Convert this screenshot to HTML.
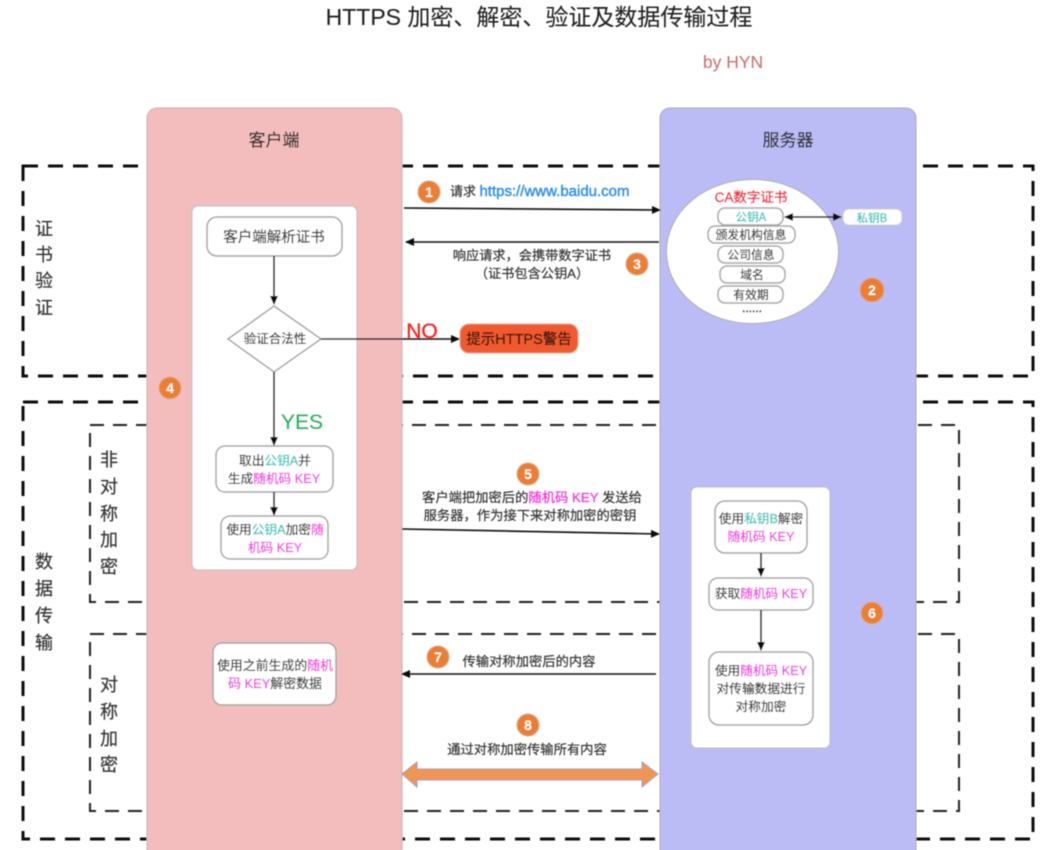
<!DOCTYPE html>
<html><head><meta charset="utf-8"><style>
html,body{margin:0;padding:0;background:#fff;width:1055px;height:850px;overflow:hidden}
svg{display:block}
text{font-family:"Liberation Sans","Noto Sans CJK SC",sans-serif;--c:#383838;fill:var(--c);stroke:var(--c);stroke-width:.22;text-anchor:middle}
tspan{fill:var(--c);stroke:var(--c)}
.b{fill:#fff;stroke:#a4a4a4;stroke-width:1.5}
.c{fill:#ec7e33;stroke:#d9a98a;stroke-width:1}
.n{--c:#fff;font-size:14px;font-weight:bold;stroke-width:0}
.t{--c:#1fc4b8}.m{--c:#f52ee0}
.l{stroke:#111;stroke-width:1.6;fill:none}
</style></head><body>
<svg width="1055" height="850" viewBox="0 0 1055 850" xmlns="http://www.w3.org/2000/svg">
<defs>
<marker id="a" markerWidth="9" markerHeight="8" refX="8" refY="4" orient="auto-start-reverse" markerUnits="userSpaceOnUse"><path d="M0 0L9 4L0 8Z" fill="#111"/></marker>
<filter id="s"><feGaussianBlur stdDeviation="0.45"/></filter>
</defs>
<g filter="url(#s)">
<text x="539" y="25" font-size="23" style="--c:#222;stroke-width:.1">HTTPS 加密、解密、验证及数据传输过程</text>
<text x="733" y="68" font-size="17.5" style="--c:#c9756d;stroke-width:.1">by HYN</text>

<rect x="23" y="166" width="1010" height="210" fill="none" stroke="#111" stroke-width="3" stroke-dasharray="15 10"/>
<rect x="23" y="402" width="1010" height="437" fill="none" stroke="#111" stroke-width="3" stroke-dasharray="15 10"/>
<rect x="90" y="425" width="869" height="177" fill="none" stroke="#222" stroke-width="2" stroke-dasharray="14 9"/>
<rect x="90" y="634" width="869" height="177" fill="none" stroke="#222" stroke-width="2" stroke-dasharray="14 9"/>

<rect x="147" y="108" width="255" height="780" rx="10" fill="#f4bdbd" stroke="#c9b0b0"/>
<rect x="660" y="108" width="256" height="780" rx="10" fill="#bbbcf6" stroke="#aaa"/>
<text x="274" y="146" font-size="17" style="--c:#2a2a2a">客户端</text>
<text x="788" y="146" font-size="17" style="--c:#2a2a2a">服务器</text>

<g font-size="18">
<text x="44" y="235">证</text><text x="44" y="261">书</text><text x="44" y="287">验</text><text x="44" y="314">证</text>
<text x="44" y="568">数</text><text x="44" y="595">据</text><text x="44" y="622">传</text><text x="44" y="649">输</text>
<text x="109" y="466">非</text><text x="109" y="493">对</text><text x="109" y="520">称</text><text x="109" y="546">加</text><text x="109" y="573">密</text>
<text x="109" y="691">对</text><text x="109" y="718">称</text><text x="109" y="745">加</text><text x="109" y="771">密</text>
</g>

<rect x="192" y="206" width="165" height="364" rx="6" fill="#fff" stroke="#bbb"/>
<rect x="207" y="217" width="135" height="39" rx="10" class="b"/>
<text x="274" y="242" font-size="14.5">客户端解析证书</text>
<path d="M274 256V304" class="l" marker-end="url(#a)"/>
<path d="M274 306L321 339L274 372L228 339Z" class="b"/>
<text x="275" y="343" font-size="12.5">验证合法性</text>
<path d="M321 339H459" class="l" marker-end="url(#a)"/>
<path d="M274 372V445" class="l" marker-end="url(#a)"/>
<text x="302" y="429" font-size="21" style="--c:#0fb45a;stroke-width:.35">YES</text>
<text x="422" y="338" font-size="21" style="--c:#f5261c;stroke-width:.35">NO</text>
<rect x="460" y="324" width="118" height="29" rx="9" fill="#f05a2e" stroke="#e8a48c"/>
<text x="519" y="344" font-size="14.5" style="--c:#2a1208">提示HTTPS警告</text>

<rect x="216" y="446" width="117" height="46" rx="9" class="b"/>
<text x="275" y="465" font-size="12.7">取出<tspan class="t">公钥A</tspan>并</text>
<text x="274" y="483" font-size="12.7">生成<tspan class="m">随机码 KEY</tspan></text>
<path d="M274 492V515" class="l" marker-end="url(#a)"/>
<rect x="221" y="516" width="107" height="43" rx="9" class="b"/>
<text x="275" y="534" font-size="12.7">使用<tspan class="t">公钥A</tspan>加密<tspan class="m">随</tspan></text>
<text x="275" y="552" font-size="12.7" class="m">机码 KEY</text>

<rect x="213" y="643" width="123" height="62" rx="9" class="b"/>
<text x="275" y="670" font-size="12.9">使用之前生成的<tspan class="m">随机</tspan></text>
<text x="275" y="688" font-size="12.9"><tspan class="m">码 KEY</tspan>解密数据</text>

<path d="M404 208L660 210" class="l" marker-end="url(#a)"/>
<path d="M659 242H406" class="l" marker-end="url(#a)"/>
<text x="463" y="196" font-size="13">请求</text>
<text x="554.5" y="196" font-size="15" style="--c:#2a8ff0;stroke-width:.4">https://www.baidu.com</text>
<text x="532" y="260" font-size="13.2">响应请求，会携带数字证书</text>
<text x="532" y="278" font-size="13.2">（证书包含公钥A）</text>

<ellipse cx="752.5" cy="251.5" rx="86" ry="72" fill="#fff" stroke="#aaa"/>
<text x="751" y="202" font-size="13.5" style="--c:#f5263c;stroke-width:.4">CA数字证书</text>
<rect x="718" y="208" width="65" height="17" rx="7" class="b" stroke-width="1"/>
<text x="751" y="221" font-size="11.5" class="t">公钥A</text>
<rect x="708" y="226" width="87" height="17" rx="7" class="b"/>
<text x="751" y="239" font-size="11.8">颁发机构信息</text>
<rect x="718" y="246" width="65" height="17" rx="7" class="b"/>
<text x="751" y="259" font-size="11.8">公司信息</text>
<rect x="720" y="266" width="65" height="17" rx="7" class="b"/>
<text x="752" y="279" font-size="11.8">域名</text>
<rect x="718" y="286" width="65" height="17" rx="7" class="b"/>
<text x="751" y="299" font-size="11.8">有效期</text>
<text x="752" y="312" font-size="12" style="stroke-width:.6">......</text>
<path d="M785 217H841" class="l" marker-start="url(#a)" marker-end="url(#a)"/>
<rect x="843" y="209" width="59" height="16" rx="6" fill="#fff" stroke="#ccc"/>
<text x="872" y="222" font-size="11.5" class="t">私钥B</text>

<text x="532" y="502" font-size="13.3">客户端把加密后的<tspan class="m">随机码 KEY</tspan> 发送给</text>
<text x="530" y="520" font-size="13.3">服务器，作为接下来对称加密的密钥</text>
<path d="M402 529L659 534" class="l" marker-end="url(#a)"/>

<rect x="691" y="487" width="139" height="261" rx="6" fill="#fff" stroke="#bbb"/>
<rect x="715" y="501" width="92" height="52" rx="10" class="b"/>
<text x="761" y="523" font-size="12.7">使用<tspan class="t">私钥B</tspan>解密</text>
<text x="761" y="541" font-size="12.7" class="m">随机码 KEY</text>
<path d="M761 553V576" class="l" marker-end="url(#a)"/>
<rect x="709" y="578" width="104" height="32" rx="9" class="b"/>
<text x="761" y="598" font-size="12.7">获取<tspan class="m">随机码 KEY</tspan></text>
<path d="M761 610V650" class="l" marker-end="url(#a)"/>
<rect x="709" y="652" width="104" height="73" rx="10" class="b"/>
<text x="761" y="675" font-size="12.7">使用<tspan class="m">随机码 KEY</tspan></text>
<text x="761" y="693" font-size="12.7">对传输数据进行</text>
<text x="761" y="711" font-size="12.7">对称加密</text>

<text x="529" y="666" font-size="13.3">传输对称加密后的内容</text>
<path d="M656 674H402" class="l" stroke-width="2" marker-end="url(#a)"/>
<text x="527" y="754" font-size="13.3">通过对称加密传输所有内容</text>
<path d="M402 774L417 762V769H642V762L658 774L642 787V780H417V787Z" fill="#ef9657" stroke="#a99ab5"/>

<circle cx="429" cy="192" r="11" class="c"/><text x="429" y="197" class="n">1</text>
<circle cx="872" cy="290" r="12" class="c"/><text x="872" y="295" class="n">2</text>
<circle cx="637" cy="264" r="11" class="c"/><text x="637" y="269" class="n">3</text>
<circle cx="170" cy="388" r="11" class="c"/><text x="170" y="393" class="n">4</text>
<circle cx="528" cy="474" r="11" class="c"/><text x="528" y="479" class="n">5</text>
<circle cx="872" cy="613" r="11" class="c"/><text x="872" y="618" class="n">6</text>
<circle cx="438" cy="657" r="11" class="c"/><text x="438" y="662" class="n">7</text>
<circle cx="528" cy="725" r="11" class="c"/><text x="528" y="730" class="n">8</text>
</g>
</svg>
</body></html>
